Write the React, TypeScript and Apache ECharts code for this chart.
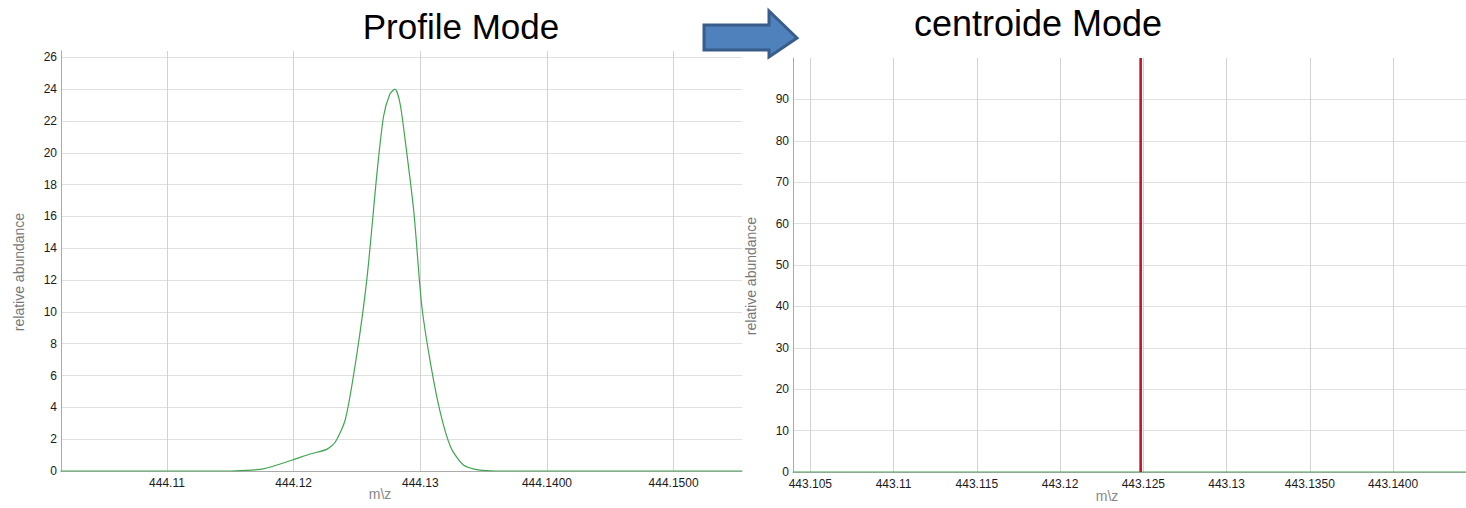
import React, { useEffect, useRef } from "react";
import * as echarts from "echarts";

// Profile mode (left) data: m/z and relative abundance
const profileMz = [
  444.1016, 444.11, 444.115, 444.1158, 444.1176, 444.1199, 444.1213, 444.1226,
  444.1233, 444.1241, 444.125, 444.1258, 444.1266, 444.1271, 444.1276, 444.128,
  444.1284, 444.1289, 444.1295, 444.1301, 444.1308, 444.1316, 444.1324, 444.1334,
  444.1347, 444.136, 444.1554,
];
const profileAbundance = [
  0, 0, 0, 0.02, 0.13, 0.69, 1.07, 1.36,
  1.84, 3.3, 7.4, 12.2, 18.9, 22.3, 23.7, 24.0,
  23.1, 20.2, 16.2, 10.5, 6.8, 3.6, 1.5, 0.38,
  0.05, 0, 0,
];

// Centroid mode (right) data
const centroidMz = [443.12484];
const centroidAbundance = [100];
const centroidBaselineMz = [443.10396, 443.14438];
const centroidBaselineAbundance = [0, 0];

// Axis ranges and tick labels
const leftXRange = [444.10163, 444.1554];
const leftYRange = [0, 26.4];
const leftXTickValues = [444.11, 444.12, 444.13, 444.14, 444.15];
const leftXTickLabels = ["444.11", "444.12", "444.13", "444.1400", "444.1500"];

const rightXRange = [443.10396, 443.14438];
const rightYRange = [0, 100];
const rightXTickValues = [443.105, 443.11, 443.115, 443.12, 443.125, 443.13, 443.135, 443.14];
const rightXTickLabels = ["443.105", "443.11", "443.115", "443.12", "443.125", "443.13", "443.1350", "443.1400"];

const titles = ["Profile Mode", "centroide Mode"];
const yName = "relative abundance";
const xName = "m\\z";

const FONT = "'Liberation Sans', Arial, Helvetica, sans-serif";

function lookup(values: number[], labels: string[]) {
  return (v: number) => {
    for (let i = 0; i < values.length; i++) {
      if (Math.abs(values[i] - v) < 1e-7) return labels[i];
    }
    return "";
  };
}

export default function App() {
  const ref = useRef<HTMLDivElement>(null);

  useEffect(() => {
    if (!ref.current) return;
    const chart = echarts.init(ref.current, undefined, { renderer: "svg" });

    const labelStyle = { color: "#1a1a1a", fontSize: 12, fontFamily: FONT };
    const nameStyleY = { color: "#777", fontSize: 14, fontFamily: FONT, padding: [0, 22, 0, 0] };

    const xCommon = (gridIndex: number, range: number[], split: number, values: number[], labels: string[]) => ({
      type: "value",
      gridIndex,
      min: range[0],
      max: range[1],
      splitNumber: split,
      axisLine: { show: true, onZero: false, lineStyle: { color: "#aaa", width: 1 } },
      axisTick: { show: false },
      axisLabel: {
        ...labelStyle,
        margin: 6,
        showMinLabel: false,
        showMaxLabel: false,
        formatter: lookup(values, labels),
      },
      splitLine: { show: true, showMinLine: false, showMaxLine: false, lineStyle: { color: "#d2d2d2", width: 1 } },
    });

    const yCommon = (gridIndex: number, range: number[], interval: number) => ({
      type: "value",
      gridIndex,
      min: range[0],
      max: range[1],
      interval,
      name: yName,
      nameLocation: "middle",
      nameGap: 35,
      nameTextStyle: nameStyleY,
      axisLine: { show: true, lineStyle: { color: "#aaa", width: 1 } },
      axisTick: { show: false },
      axisLabel: { ...labelStyle, margin: 4, showMaxLabel: false },
      splitLine: { show: true, showMaxLine: false, lineStyle: { color: "#e0e0e0", width: 1 } },
    });

    const xNameText = (x: number, y: number) => ({
      type: "text",
      x,
      y,
      style: { text: xName, font: `14px ${FONT}`, fill: "#888", textAlign: "center", textVerticalAlign: "middle" },
    });

    chart.setOption({
      animation: false,
      backgroundColor: "#fff",
      grid: [
        { left: 61, top: 51, width: 681, height: 420, containLabel: false, outerBoundsMode: "none" },
        { left: 793, top: 58, right: 0, height: 414, containLabel: false, outerBoundsMode: "none" },
      ],
      xAxis: [
        xCommon(0, leftXRange, 5, leftXTickValues, leftXTickLabels),
        xCommon(1, rightXRange, 8, rightXTickValues, rightXTickLabels),
      ],
      yAxis: [yCommon(0, leftYRange, 2), yCommon(1, rightYRange, 10)],
      series: [
        {
          type: "line",
          xAxisIndex: 0,
          yAxisIndex: 0,
          data: profileMz.map((m, i) => [m, profileAbundance[i]]),
          showSymbol: false,
          smooth: 0.25,
          lineStyle: { color: "#3fa64f", width: 1.2 },
          clip: true,
        },
        {
          type: "line",
          xAxisIndex: 1,
          yAxisIndex: 1,
          data: centroidBaselineMz.map((m, i) => [m, centroidBaselineAbundance[i]]),
          showSymbol: false,
          lineStyle: { color: "#3fa64f", width: 1.2 },
        },
        {
          type: "line",
          xAxisIndex: 1,
          yAxisIndex: 1,
          data: centroidMz.flatMap((m, i) => [[m, 0], [m, centroidAbundance[i]], null]),
          connectNulls: false,
          showSymbol: false,
          lineStyle: { color: "#c4122b", width: 2.6 },
        },
      ],
      graphic: [
        {
          type: "text",
          x: 461,
          y: 26,
          style: { text: titles[0], font: `35px ${FONT}`, fill: "#000", textAlign: "center", textVerticalAlign: "middle" },
        },
        {
          type: "text",
          x: 1038,
          y: 23,
          style: { text: titles[1], font: `36px ${FONT}`, fill: "#000", textAlign: "center", textVerticalAlign: "middle" },
        },
        xNameText(380, 494),
        xNameText(1107, 496),
        {
          type: "polygon",
          z: 100,
          shape: {
            points: [
              [704, 25],
              [769, 25],
              [769, 11],
              [797, 38],
              [769, 57],
              [769, 50],
              [704, 50],
            ],
          },
          style: { fill: "#4f81bd", stroke: "#385d8a", lineWidth: 3 },
        },
      ],
    });

    return () => chart.dispose();
  }, []);

  return (
    <div
      ref={ref}
      style={{ position: "absolute", left: 0, top: 0, width: 1466, height: 508, background: "#fff" }}
    />
  );
}
